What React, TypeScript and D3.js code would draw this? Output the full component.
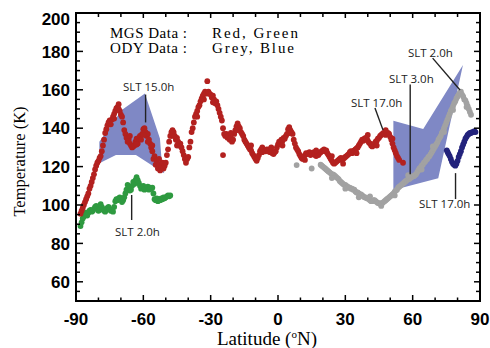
import { useEffect, useRef } from "react";
import * as d3 from "d3";

// [latitude, temperature]
const mgsRed: [number, number][] = [
  [-88, 95.5], [-87.5, 97], [-87, 98.5], [-86.5, 100], [-86, 101.5], [-85.5, 103], [-85, 104.5], [-84.5, 106],
  [-84, 108.5], [-83.5, 110], [-83, 112], [-82.5, 114], [-82, 116], [-81.5, 118.5], [-81, 120.5], [-80.5, 122],
  [-80, 123], [-79.5, 124.5], [-79, 125.5], [-78.5, 128], [-78, 131], [-77.5, 134], [-77, 137.5], [-76.5, 139.5],
  [-76, 141.5], [-75.5, 143], [-75, 144], [-74.5, 142], [-74, 144.5], [-73.5, 146], [-73, 147.5], [-72.5, 149],
  [-72, 150.5], [-71.5, 151], [-71, 150], [-70.5, 149], [-70, 147], [-69.5, 146], [-69, 143], [-68.5, 139],
  [-68, 137], [-67.5, 135], [-67, 133], [-66.5, 134], [-66, 132], [-65.5, 131], [-65, 130], [-64.5, 130.5],
  [-64, 131], [-63.5, 133], [-63, 134.5], [-62.5, 132], [-62, 135], [-61.5, 136], [-61, 134], [-60.5, 137],
  [-60, 139.5], [-59.5, 140], [-59, 138], [-58.5, 136], [-58, 137], [-57.5, 134], [-57, 132], [-56.5, 130],
  [-56, 128], [-55.5, 124], [-55, 125.5], [-54.5, 121], [-54, 123], [-53.5, 119], [-53, 121], [-52.5, 118],
  [-52, 120], [-51.5, 122], [-51, 119], [-50.5, 120.5], [-50, 122], [-49.5, 126], [-49, 129], [-48.5, 133],
  [-48, 136], [-47.5, 138], [-47, 139], [-46.5, 138], [-46, 136], [-45.5, 134], [-45, 135], [-44.5, 133],
  [-44, 131], [-43.5, 132], [-43, 130], [-42.5, 128], [-42, 126], [-41.5, 124], [-41, 122], [-40.5, 124],
  [-40, 125], [-39.5, 130], [-39, 133], [-38.5, 138], [-38, 140], [-37.5, 143], [-37, 146], [-36.5, 147.5],
  [-36, 149], [-35.5, 151], [-35, 152], [-34.5, 154], [-34, 155.5], [-33.5, 157], [-33, 158], [-32.5, 159],
  [-32, 158], [-31.5, 164.5], [-31, 159], [-30.5, 158], [-30, 157.5], [-29.5, 156], [-29, 157], [-28.5, 155],
  [-28, 153], [-27.5, 154], [-27, 152], [-26.5, 150], [-26, 148], [-25.5, 146], [-25, 144], [-24.5, 140],
  [-24, 137], [-23.5, 136], [-23, 137], [-22.5, 135], [-22, 136], [-21.5, 134], [-21, 135], [-20.5, 133],
  [-20, 134], [-24.5, 126], [-19.5, 137], [-19, 139], [-18.5, 141], [-18, 142.5], [-17.5, 141], [-17, 140],
  [-16.5, 138], [-16, 137], [-15.5, 136], [-15, 134], [-14.5, 133], [-14, 132], [-13.5, 131], [-13, 130],
  [-12.5, 129], [-12, 128.5], [-11.5, 127], [-11, 126], [-10.5, 125], [-10, 124], [-9.5, 123], [-9, 124.5],
  [-8.5, 126], [-8, 128], [-7.5, 129], [-7, 130], [-6.5, 129], [-6, 128.5], [-5.5, 128], [-5, 129],
  [-4.5, 128], [-4, 129], [-3.5, 127.5], [-3, 128], [-2.5, 127], [-2, 126.5], [-1.5, 127.5], [-1, 128],
  [-0.5, 130], [0, 131.5], [0.5, 133], [1, 132], [1.5, 134], [2, 133.5], [2.5, 135], [3, 134.5],
  [3.5, 136], [4, 137], [4.5, 139.5], [5, 140.5], [5.5, 139], [6, 138], [6.5, 137], [7, 134],
  [7.5, 132], [8, 130], [8.5, 129], [9, 128], [9.5, 126.5], [10, 125.5], [10.5, 124.5], [11, 124],
  [11.5, 125], [12, 126], [12.5, 127], [13, 126.5], [13.5, 127], [14, 127.5], [14.5, 126], [15, 127],
  [15.5, 126.5], [16, 127.5], [16.5, 126], [17, 125.5], [17.5, 126.5], [18, 126], [18.5, 127], [19, 127.5],
  [19.5, 128], [20, 128.5], [20.5, 129], [21, 128], [21.5, 128.5], [22, 127], [22.5, 126], [23, 125],
  [23.5, 124], [24, 123], [24.5, 122], [25, 121.5], [25.5, 122], [26, 122.5], [26.5, 123], [27, 123.5],
  [27.5, 124], [28, 124.5], [28.5, 123.5], [29, 124], [29.5, 124.5], [30, 125], [30.5, 125.5], [31, 126],
  [31.5, 126.5], [32, 127.5], [32.5, 128], [33, 127], [33.5, 128], [34, 128.5], [34.5, 129], [35, 129.5],
  [35.5, 130], [36, 131], [36.5, 132], [37, 133], [37.5, 134], [38, 133.5], [38.5, 134.5], [39, 135],
  [39.5, 134.5], [40, 133.5], [40.5, 132.5], [41, 132], [41.5, 131], [42, 130.5], [42.5, 131.5], [43, 132],
  [43.5, 133], [44, 133.5], [44.5, 134.5], [45, 135], [45.5, 136], [46, 136.5], [46.5, 137], [47, 137.5],
  [47.5, 137], [48, 136.5], [48.5, 137], [49, 137.5], [49.5, 137], [50, 135.5], [50.5, 134], [51, 132],
  [51.5, 130], [52, 128.5], [52.5, 127], [53, 125.5], [53.5, 124.5], [54, 123.5], [55.7, 122],
  // scatter around the main track
  [-73, 145], [-71, 152.5], [-66, 136], [-63, 131.5], [-60, 136.5], [-58, 133], [-56, 131], [-53, 124],
  [-47, 136], [-45, 131], [-36, 146], [-33, 155], [-29, 153.5], [-21, 137.5], [-18, 139], [-12, 131],
  [-7, 127.5], [-3, 130], [2, 131], [5, 137.5], [12, 123.5], [17, 128.5], [24, 125.5], [29, 121.5],
  [35, 127], [40, 136.5], [44, 131], [48, 139], [51, 134.5],
];

const mgsGreen: [number, number][] = [
  [-88, 89], [-87.5, 91], [-87, 93], [-86.5, 94], [-86, 95.5], [-85.5, 96], [-85, 94.5], [-84.5, 96],
  [-84, 97], [-83.5, 97.5], [-83, 96.5], [-82.5, 97], [-82, 98], [-81.5, 99], [-81, 99.5], [-80.5, 98],
  [-80, 97], [-79.5, 97.5], [-79, 100.5], [-78.5, 99], [-78, 98], [-77.5, 97], [-77, 96.5], [-76.5, 97.5],
  [-76, 98.5], [-75.5, 99], [-75, 98], [-74.5, 97], [-74, 97.5], [-73.5, 96.5], [-73, 99], [-72.5, 102],
  [-72, 103], [-71.5, 102.5], [-71, 103.5], [-70.5, 104], [-70, 103], [-69.5, 101.5], [-69, 102.5], [-68.5, 104],
  [-68, 106], [-67.5, 108], [-67, 110.5], [-66.5, 109], [-66, 107.5], [-65.5, 108], [-65, 110], [-64.5, 112],
  [-64, 111], [-63.5, 113], [-63, 114.5], [-62.5, 113], [-62, 111.5], [-61.5, 110], [-61, 108.5], [-60.5, 109],
  [-60, 110], [-59.5, 108], [-59, 109], [-58.5, 108.5], [-58, 109.5], [-57.5, 108], [-57, 109], [-56.5, 108.5],
  [-56, 109], [-55.5, 106], [-55, 103], [-54.5, 102.5], [-54, 103.5], [-53.5, 102], [-53, 103], [-52.5, 102.5],
  [-52, 103.5], [-51.5, 103], [-51, 104], [-50.5, 103.5], [-50, 104], [-49.5, 104.5], [-49, 105], [-48.5, 104.5],
  [-48, 105],
];

const odyGrey: [number, number][] = [
  [8.3, 120.8], [15, 119], [19, 121], [19.5, 120.5], [20, 120], [20.5, 119.5], [21, 119], [21.5, 118.5],
  [22, 118], [22.5, 117.5], [23, 117], [23.5, 116.5], [24, 116], [24.5, 116], [25, 115.5], [25.5, 115],
  [26, 114.5], [26.5, 114], [27, 113.5], [27.5, 112.5], [28, 112], [28.5, 111.5], [29, 111], [29.5, 110.5],
  [30, 110.5], [30.5, 110], [31, 109.5], [31.5, 109], [32, 109], [32.5, 108.5], [33, 108.5], [33.5, 108],
  [34, 108], [34.5, 107], [35, 106.5], [35.5, 106.5], [36, 106], [36.5, 105.5], [37, 105.5], [37.5, 105],
  [38, 104.5], [38.5, 104], [39, 104], [39.5, 103.5], [40, 103.5], [40.5, 103], [41, 102.5], [41.5, 102],
  [42, 102], [42.5, 102.5], [43, 102.5], [43.5, 102], [44, 101.5], [44.5, 101], [45, 101], [45.5, 100.5],
  [46, 101], [46.5, 101], [47, 101.5], [47.5, 102], [48, 102.5], [48.5, 103], [49, 103.5], [49.5, 104],
  [50, 104.5], [50.5, 105], [51, 105.5], [51.5, 106], [52, 107], [52.5, 107.5], [53, 108], [53.5, 109],
  [54, 109.5], [54.5, 110], [55, 110.5], [55.5, 111], [56, 111.5], [56.5, 112], [57, 112.5], [57.5, 113],
  [58, 113.5], [58.5, 113.5], [59, 114], [59.5, 114.5], [60, 115], [60.5, 115], [61, 115.5], [61.5, 116],
  [62, 117], [62.5, 118], [63, 119], [63.5, 119.5], [64, 120.5], [64.5, 121], [65, 122], [65.5, 122.5],
  [66, 123.5], [66.5, 124], [67, 125], [67.5, 125.5], [68, 126.5], [68.5, 127.5], [69, 128.5], [69.5, 129.5],
  [70, 130.5], [70.5, 131.5], [71, 132.5], [71.5, 134], [72, 135], [72.5, 136], [73, 137.5], [73.5, 138.5],
  [74, 140], [74.5, 141.5], [75, 143], [75.5, 144.5], [76, 146], [76.5, 147.5], [77, 149], [77.5, 150],
  [78, 151.5], [78.5, 153], [79, 154], [79.5, 155.5], [80, 156.5], [80.5, 157.5], [81, 158.5], [81.5, 159],
  [82, 157.5], [82.5, 156.5], [83, 155], [83.5, 154.5], [84, 153], [84.5, 151.5], [85, 150], [85.5, 148.5],
  [86, 147],
  // scatter around the track
  [24, 114], [30, 108.5], [36, 104], [41, 104.5], [46, 99.5], [52, 105], [58, 115.5], [64, 118.5],
  [69, 130.5], [74, 138], [78, 149.5], [84, 151],
];

const odyBlue: [number, number][] = [
  [75.2, 128.5], [75.6, 127.5], [76, 126.5], [76.5, 125.5], [77, 124], [77.5, 122.5], [78, 121.5], [78.5, 121],
  [79, 120.5], [79.5, 121.5], [80, 123], [80.5, 125], [81, 126.5], [81.5, 128], [82, 130], [82.5, 131.5],
  [83, 133], [83.5, 134.5], [84, 135.5], [84.5, 136.5], [85, 137], [85.5, 137.5], [86, 137.5], [86.5, 138],
  [87, 138], [87.5, 138.5], [88, 138],
];

// shaded local-time envelopes
const envelopeSouth: [number, number][] = [
  [-79.6, 133], [-69.6, 149.5], [-59.3, 158.1], [-52.6, 134.7], [-51.8, 122.5],
  [-50.7, 116.5], [-63.3, 126], [-72.2, 126], [-79.6, 121.7],
];
const envelopeNorth: [number, number][] = [
  [51.4, 143.9], [64.7, 139.6], [82.4, 172.9], [71.4, 113.9], [51.4, 107.8],
];

const xTicks = [-90, -60, -30, 0, 30, 60, 90];
const yTicks = [60, 80, 100, 120, 140, 160, 180, 200];

// label text, text anchor [lat, T], pointer line [lat, T] -> [lat, T]
const notes = [
  { text: "SLT 15.0h", at: [-69.1, 159.4], from: [-59, 157.5], to: [-59, 143] },
  { text: "SLT 2.0h", at: [-72.6, 83.9], from: [-65.2, 105.2], to: [-65.2, 92.2] },
  { text: "SLT 17.0h", at: [32.5, 151], from: [43.2, 150.5], to: [46.8, 139] },
  { text: "SLT 3.0h", at: [49.4, 163.5], from: [58.9, 162.8], to: [58.9, 116] },
  { text: "SLT 2.0h", at: [57.9, 177], from: [68.9, 176.5], to: [81.1, 159.9] },
  { text: "SLT 17.0h", at: [62.8, 98.4], from: [79.1, 116.6], to: [79.1, 103.1] },
];

const App = () => {
  const ref = useRef<SVGSVGElement | null>(null);

  useEffect(() => {
    const svg = d3.select(ref.current);
    svg.selectAll("*").remove();

    const left = 76, right = 480, top = 13, bottom = 301;
    const x = d3.scaleLinear().domain([-90, 90]).range([left, right]);
    const y = d3.scaleLinear().domain([50, 200]).range([bottom, top]);

    const line = d3.line<[number, number]>().x(d => x(d[0])).y(d => y(d[1])).curve(d3.curveLinearClosed);

    // envelopes
    [envelopeSouth, envelopeNorth].forEach(poly => {
      svg.append("path").attr("d", line(poly)).attr("fill", "#7f88c5").attr("stroke", "none");
    });

    // data points
    const series: [[number, number][], string][] = [
      [mgsGreen, "#2e9a40"],
      [odyGrey, "#a2a2a2"],
      [mgsRed, "#b3211f"],
      [odyBlue, "#23237c"],
    ];
    series.forEach(([pts, col]) => {
      svg.append("g")
        .selectAll("circle")
        .data(pts)
        .enter().append("circle")
        .attr("cx", d => x(d[0]))
        .attr("cy", d => y(d[1]))
        .attr("r", 2.9)
        .attr("fill", col);
    });

    // annotations
    const notesG = svg.append("g");
    notes.forEach(n => {
      notesG.append("line")
        .attr("x1", x(n.from[0])).attr("y1", y(n.from[1]))
        .attr("x2", x(n.to[0])).attr("y2", y(n.to[1]))
        .attr("stroke", "#222").attr("stroke-width", 1.4);
      notesG.append("text")
        .attr("x", x(n.at[0])).attr("y", y(n.at[1]))
        .attr("font-family", "'Open Sans', sans-serif")
        .attr("font-size", 11.5)
        .attr("fill", "#222")
        .text(n.text);
    });

    // legend text
    const legend = [
      ["MGS Data :", "Red, Green", 37.5, 86],
      ["ODY Data :", "Grey, Blue", 52.5, 82],
    ] as const;
    legend.forEach(([a, b, yy, w]) => {
      svg.append("text").attr("x", 110).attr("y", yy)
        .attr("font-family", "'Liberation Serif', serif").attr("font-size", 15)
        .attr("textLength", 77).attr("lengthAdjust", "spacing").text(a);
      svg.append("text").attr("x", 212).attr("y", yy)
        .attr("font-family", "'Liberation Serif', serif").attr("font-size", 15)
        .attr("textLength", w).attr("lengthAdjust", "spacing").text(b);
    });

    // frame + ticks
    const minorX = d3.range(-90, 91, 10);
    const minorY = d3.range(50, 201, 5);
    const axes = svg.append("g").attr("stroke", "#000");
    minorX.forEach(v => {
      const major = v % 30 === 0;
      axes.append("line").attr("x1", x(v)).attr("x2", x(v))
        .attr("y1", bottom).attr("y2", bottom - (major ? 6 : 3.5)).attr("stroke-width", 1.5);
      axes.append("line").attr("x1", x(v)).attr("x2", x(v))
        .attr("y1", top).attr("y2", top + (major ? 5 : 4)).attr("stroke-width", 1.5);
    });
    minorY.forEach(v => {
      const major = v % 20 === 0;
      axes.append("line").attr("x1", left).attr("x2", left + (major ? 7 : 4))
        .attr("y1", y(v)).attr("y2", y(v)).attr("stroke-width", 1.5);
      axes.append("line").attr("x1", right).attr("x2", right - (major ? 6 : 4))
        .attr("y1", y(v)).attr("y2", y(v)).attr("stroke-width", 1.5);
    });
    axes.append("rect")
      .attr("x", left).attr("y", top)
      .attr("width", right - left).attr("height", bottom - top)
      .attr("fill", "none").attr("stroke-width", 2);

    // tick labels
    svg.append("g").selectAll("text").data(xTicks).enter().append("text")
      .attr("x", d => x(d)).attr("y", 325)
      .attr("text-anchor", "middle")
      .attr("font-family", "'Liberation Sans', Arial, sans-serif")
      .attr("font-weight", "bold").attr("font-size", 17)
      .text(d => d);
    svg.append("g").selectAll("text").data(yTicks).enter().append("text")
      .attr("x", 70).attr("y", d => (d === 200 ? y(d) + 6 : y(d)))
      .attr("dy", "0.36em")
      .attr("text-anchor", "end")
      .attr("font-family", "'Liberation Sans', Arial, sans-serif")
      .attr("font-weight", "bold").attr("font-size", 17)
      .text(d => d);

    // axis titles
    svg.append("text")
      .attr("transform", `translate(25,${(101 + 222) / 2}) rotate(-90)`)
      .attr("text-anchor", "middle")
      .attr("font-family", "'Liberation Serif', serif").attr("font-size", 16.5)
      .text("Temperature (K)");
    const xt = svg.append("text")
      .attr("x", 267).attr("y", 345)
      .attr("text-anchor", "middle")
      .attr("font-family", "'Liberation Serif', serif").attr("font-size", 19);
    xt.append("tspan").text("Latitude (");
    xt.append("tspan").attr("font-size", 11).attr("dy", -7).text("o");
    xt.append("tspan").attr("dy", 7).text("N)");
  }, []);

  return (
    <svg
      ref={ref}
      width={490}
      height={348}
      style={{ position: "absolute", left: 0, top: 0, background: "#fff" }}
    />
  );
};

export default App;
